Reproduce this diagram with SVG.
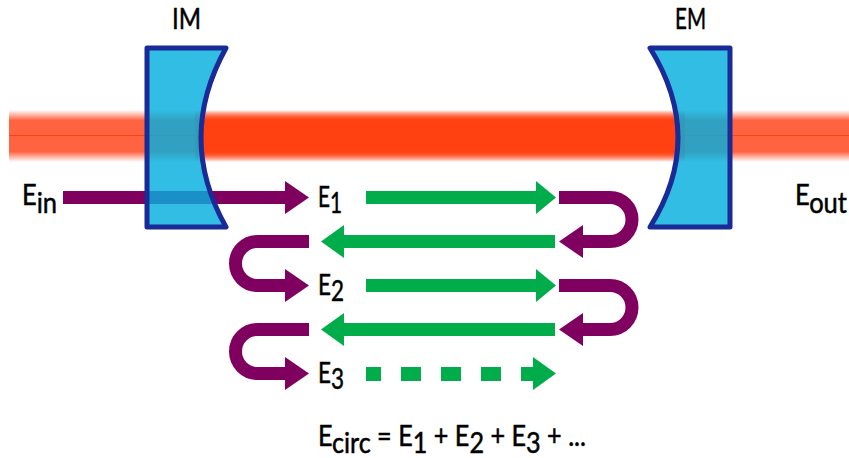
<svg xmlns="http://www.w3.org/2000/svg" width="849" height="458" viewBox="0 0 849 458">
<style>
text{font-family:Lato,"Noto Sans",sans-serif;font-size:28px;fill:#000;stroke:#000;stroke-width:.5}
.p{fill:none;stroke:#80005f;stroke-width:13}
.ph{fill:#80005f}
.g{fill:#00ad4a}
.m{fill:#05afde;fill-opacity:.82;stroke:#1a2a96;stroke-width:5;stroke-linejoin:round}
</style>
<defs>
<linearGradient id="bo" x1="0" y1="0" x2="0" y2="1">
<stop offset="0" stop-color="#ff6340" stop-opacity="0"/>
<stop offset=".2" stop-color="#ff6340"/>
<stop offset=".8" stop-color="#ff6340"/>
<stop offset="1" stop-color="#ff6340" stop-opacity="0"/>
</linearGradient>
<linearGradient id="bi" x1="0" y1="0" x2="0" y2="1">
<stop offset="0" stop-color="#ff4010" stop-opacity="0"/>
<stop offset=".2" stop-color="#ff4010"/>
<stop offset=".8" stop-color="#ff4010"/>
<stop offset="1" stop-color="#ff4010" stop-opacity="0"/>
</linearGradient>
</defs>
<g id="beam">
<rect x="9" y="110" width="840" height="52" fill="url(#bo)"/>
<rect x="195" y="110" width="490" height="52" fill="url(#bi)"/>
<path d="M9 135.500H849" stroke="#ff4010" stroke-width="1" fill="none"/>
</g>
<g id="connectors">
<path class="p" d="M63 197.500H286"/><path class="ph" d="M285 181L309 197.500L285 214Z"/>
<path class="g" d="M366 191H536V181L556 197.500L536 214V204H366Z"/>
<path class="p" d="M559 197.500H610A22 22 0 0 1 610 241.500H582"/><path class="ph" d="M583 225L559 241.500L583 258Z"/>
<path class="g" d="M555 235H344V225L321 241.500L344 258V248H555Z"/>
<path class="p" d="M309 241.500H257.500A22 22 0 0 0 257.500 285.500H286"/><path class="ph" d="M285 269L309 285.500L285 302Z"/>
<path class="g" d="M366 279H536V269L556 285.500L536 302V292H366Z"/>
<path class="p" d="M559 285.500H610A22 22 0 0 1 610 329.500H582"/><path class="ph" d="M583 313L559 329.500L583 346Z"/>
<path class="g" d="M555 323H344V313L321 329.500L344 346V336H555Z"/>
<path class="p" d="M309 329.500H257.500A22 22 0 0 0 257.500 373.500H286"/><path class="ph" d="M285 357L309 373.500L285 390Z"/>
<g class="g"><rect x="366" y="367" width="15" height="14"/><rect x="401" y="367" width="20" height="14"/><rect x="441" y="367" width="20" height="14"/><rect x="481" y="367" width="20" height="14"/><path d="M521 367H533V357L556 373.500L533 390V381H521Z"/></g>
</g>
<g id="IM">
<path class="m" d="M147 48H226Q176 138 226 227H147Z"/>
<text x="172" y="29" textLength="29" lengthAdjust="spacingAndGlyphs">IM</text>
</g>
<g id="EM">
<path class="m" d="M650 48H730V227H650Q706 138 650 48Z"/>
<text x="675" y="29" textLength="31" lengthAdjust="spacingAndGlyphs">EM</text>
</g>
<g id="labels">
<text x="22" y="205" textLength="35" lengthAdjust="spacingAndGlyphs">E<tspan dy="8">in</tspan></text>
<text x="795" y="205" textLength="52" lengthAdjust="spacingAndGlyphs">E<tspan dy="8">out</tspan></text>
<text x="318" y="207" textLength="24" lengthAdjust="spacingAndGlyphs">E<tspan dy="6">1</tspan></text>
<text x="318" y="295" textLength="26" lengthAdjust="spacingAndGlyphs">E<tspan dy="6">2</tspan></text>
<text x="318" y="383" textLength="26" lengthAdjust="spacingAndGlyphs">E<tspan dy="6">3</tspan></text>
<text x="318" y="446" textLength="268" lengthAdjust="spacingAndGlyphs">E<tspan dy="7">circ</tspan><tspan dy="-7"> = E</tspan><tspan dy="7">1</tspan><tspan dy="-7"> + E</tspan><tspan dy="7">2</tspan><tspan dy="-7"> + E</tspan><tspan dy="7">3</tspan><tspan dy="-7"> + ...</tspan></text>
</g>
</svg>
